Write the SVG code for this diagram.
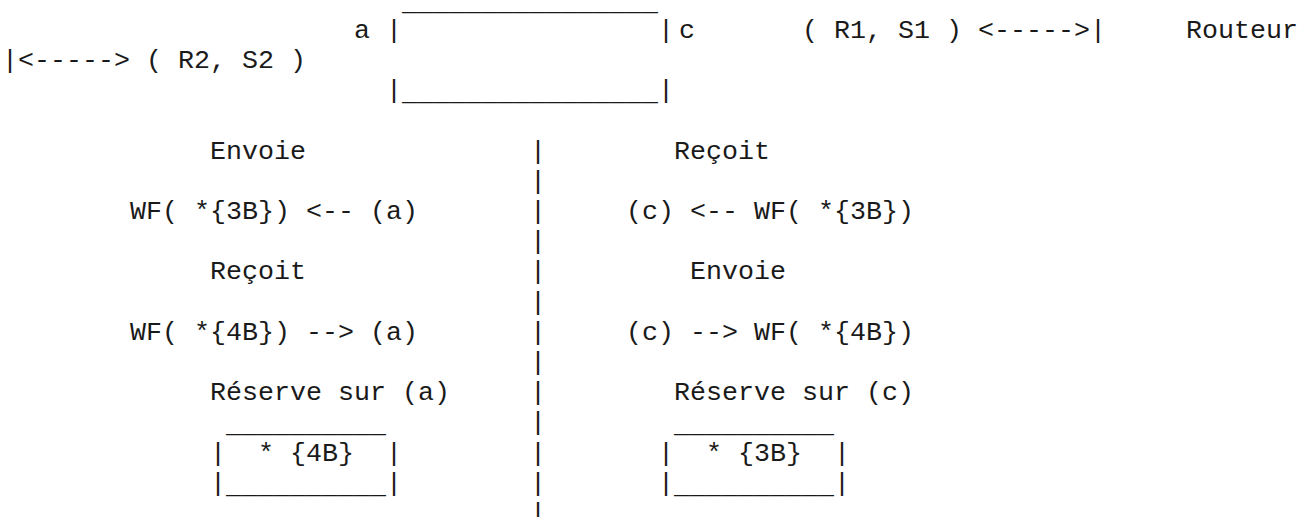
<svg xmlns="http://www.w3.org/2000/svg" width="1311" height="517" viewBox="0 0 1311 517">
  <style>
    /* monospace grid: 16px per column, 30.2px per row */
    .t { font-family: "Liberation Mono", "Courier New", "DejaVu Sans Mono", monospace; font-size: 26.667px; fill: #1a1a1a; white-space: pre; }
  </style>
  <rect width="1311" height="517" fill="#fff"/>

  <!-- Router box -->
  <g id="router-box">
    <text class="t" x="402" y="9.5">________________</text>
    <text class="t" x="386" y="37.7">|</text>
    <text class="t" x="658" y="37.7">|</text>
    <text class="t" x="386" y="98.1">|</text>
    <text class="t" x="402" y="100.1">________________</text>
    <text class="t" x="658" y="98.1">|</text>
  </g>

  <!-- Interfaces of the router -->
  <g id="iface-a">
    <text class="t" x="354" y="37.7">a</text>
  </g>
  <g id="iface-c">
    <text class="t" x="679" y="37.7">c</text>
  </g>

  <!-- Peers -->
  <g id="peer-r1-s1">
    <text class="t" x="802" y="37.7">( R1, S1 )</text>
  </g>
  <g id="routeur">
    <text class="t" x="1186" y="37.7">Routeur</text>
  </g>
  <g id="peer-r2-s2">
    <text class="t" x="146" y="67.9">( R2, S2 )</text>
  </g>

  <!-- Links -->
  <g id="connectors">
    <text class="t" x="978" y="37.7">&lt;-----&gt;|</text>
    <text class="t" x="2" y="67.9">|&lt;-----&gt;</text>
  </g>

  <!-- Vertical separator between the two interfaces -->
  <g id="separator">
    <text class="t" x="530" y="158.5">|</text>
    <text class="t" x="530" y="188.7">|</text>
    <text class="t" x="530" y="218.9">|</text>
    <text class="t" x="530" y="249.1">|</text>
    <text class="t" x="530" y="279.3">|</text>
    <text class="t" x="530" y="309.5">|</text>
    <text class="t" x="530" y="339.7">|</text>
    <text class="t" x="530" y="369.9">|</text>
    <text class="t" x="530" y="400.1">|</text>
    <text class="t" x="530" y="430.3">|</text>
    <text class="t" x="530" y="460.5">|</text>
    <text class="t" x="530" y="490.7">|</text>
    <text class="t" x="530" y="520.9">|</text>
  </g>

  <!-- Interface a -->
  <g id="side-a">
    <text class="t" x="210" y="158.5">Envoie</text>
    <text class="t" x="130" y="218.9">WF( *{3B}) &lt;-- (a)</text>
    <text class="t" x="210" y="279.3">Reçoit</text>
    <text class="t" x="130" y="339.7">WF( *{4B}) --&gt; (a)</text>
    <text class="t" x="210" y="400.1">Réserve sur (a)</text>
  </g>
  <g id="reservation-a">
    <text class="t" x="226" y="432.3">__________</text>
    <text class="t" x="210" y="460.5">|  * {4B}  |</text>
    <text class="t" x="210" y="490.7">|</text>
    <text class="t" x="226" y="492.7">__________</text>
    <text class="t" x="386" y="490.7">|</text>
  </g>

  <!-- Interface c -->
  <g id="side-c">
    <text class="t" x="674" y="158.5">Reçoit</text>
    <text class="t" x="626" y="218.9">(c) &lt;-- WF( *{3B})</text>
    <text class="t" x="690" y="279.3">Envoie</text>
    <text class="t" x="626" y="339.7">(c) --&gt; WF( *{4B})</text>
    <text class="t" x="674" y="400.1">Réserve sur (c)</text>
  </g>
  <g id="reservation-c">
    <text class="t" x="674" y="432.3">__________</text>
    <text class="t" x="658" y="460.5">|  * {3B}  |</text>
    <text class="t" x="658" y="490.7">|</text>
    <text class="t" x="674" y="492.7">__________</text>
    <text class="t" x="834" y="490.7">|</text>
  </g>
</svg>
